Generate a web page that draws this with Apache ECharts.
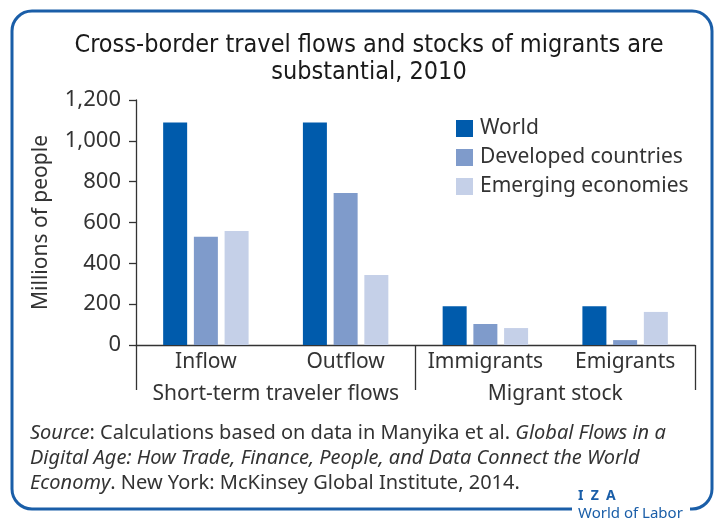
<!DOCTYPE html>
<html><head><meta charset="utf-8">
<script src="https://cdn.jsdelivr.net/npm/echarts@6/dist/echarts.min.js"></script>
<style>html,body{margin:0;padding:0;background:#fff}#c{width:721px;height:518px}</style>
</head><body><div id="c"></div>
<script>
const categories = ['Inflow', 'Outflow', 'Immigrants', 'Emigrants'];
const groups = ['Short-term traveler flows', 'Migrant stock'];
const seriesNames = ['World', 'Developed countries', 'Emerging economies'];
const world = [1090, 1090, 190, 190];
const developed = [530, 745, 103, 24];
const emerging = [558, 343, 83, 162];
const yTicks = [0, 200, 400, 600, 800, 1000, 1200];
const colors = ['#005bac', '#7f9bcb', '#c5d0e8'];

const BODY = '"Noto Sans", "Open Sans", sans-serif';
const TITLE = '"Liberation Sans Narrow", "DejaVu Sans Condensed", sans-serif';
const chart = echarts.init(document.getElementById('c'), null, {renderer: 'canvas'});
const values = [world, developed, emerging];
chart.setOption({
  animation: false,
  color: colors,
  title: {
    text: 'Cross-border travel flows and stocks of migrants are\nsubstantial, 2010',
    left: 364, top: 27, textAlign: 'center',
    textStyle: {fontFamily: TITLE, fontSize: 25, fontWeight: 'normal', color: '#1a1a1a', lineHeight: 27}
  },
  legend: {
    data: seriesNames, orient: 'vertical', left: 451, top: 113,
    itemWidth: 17, itemHeight: 17, itemGap: 8, icon: 'rect',
    textStyle: {fontFamily: BODY, fontSize: 21, color: '#333', padding: [0, 0, 0, 2]}
  },
  grid: {left: 136, right: 26, top: 100, bottom: 173, containLabel: false},
  xAxis: [{
    type: 'category', data: categories, position: 'bottom',
    axisLine: {lineStyle: {color: '#333', width: 1.3}},
    axisTick: {show: false},
    axisLabel: {fontFamily: BODY, fontSize: 21, color: '#333', margin: 7, interval: 0}
  }, {
    type: 'category', data: groups, position: 'bottom', offset: 0,
    axisLine: {show: false},
    axisTick: {show: true, interval: 0, length: 45, lineStyle: {color: '#333', width: 1.3}},
    axisLabel: {fontFamily: BODY, fontSize: 21, color: '#333', margin: 39, interval: 0}
  }],
  yAxis: {
    type: 'value', min: 0, max: 1200, interval: 200,
    name: 'Millions of people', nameLocation: 'middle', nameGap: 84, nameRotate: 90,
    nameTextStyle: {fontFamily: BODY, fontSize: 21, color: '#333'},
    axisLine: {show: true, lineStyle: {color: '#333', width: 1.3}},
    axisTick: {show: true, length: 7, lineStyle: {color: '#333', width: 1.3}},
    splitLine: {show: false},
    axisLabel: {fontFamily: BODY, fontSize: 22, color: '#333', margin: 15,
      formatter: v => yTicks.includes(v) ? v.toLocaleString('en-US') : ''}
  },
  series: seriesNames.map((n, i) => ({
    name: n, type: 'bar', data: values[i], barWidth: 24, barGap: '28%',
    xAxisIndex: 0, itemStyle: {color: colors[i]}
  })),
  graphic: [
    {type: 'rect', shape: {x: 12, y: 11, width: 700, height: 498, r: 20},
      style: {fill: 'none', stroke: '#1a5ea8', lineWidth: 3}, z: 10},
    {type: 'rect', shape: {x: 572, y: 500, width: 118, height: 18},
      style: {fill: '#fff'}, z: 11},
    {type: 'text', left: 578, top: 489, z: 12,
      style: {text: 'I  Z  A', fill: '#1a5ea8', font: 'bold 14px ' + BODY}},
    {type: 'text', left: 578, top: 506, z: 12,
      style: {text: 'World of Labor', fill: '#1a5ea8', font: '15px ' + BODY}},
    {type: 'text', left: 30, top: 421, z: 12,
      style: {
        text: '{i|Source}: Calculations based on data in Manyika et al. {i|Global Flows in a}\n{i|Digital Age: How Trade, Finance, People, and Data Connect the World}\n{i|Economy}. New York: McKinsey Global Institute, 2014.',
        font: '20px ' + BODY, fill: '#333', lineHeight: 25,
        rich: {i: {fontStyle: 'italic', fontFamily: BODY, fontSize: 20, fill: '#333', lineHeight: 25}}
      }}
  ]
});
</script></body></html>
